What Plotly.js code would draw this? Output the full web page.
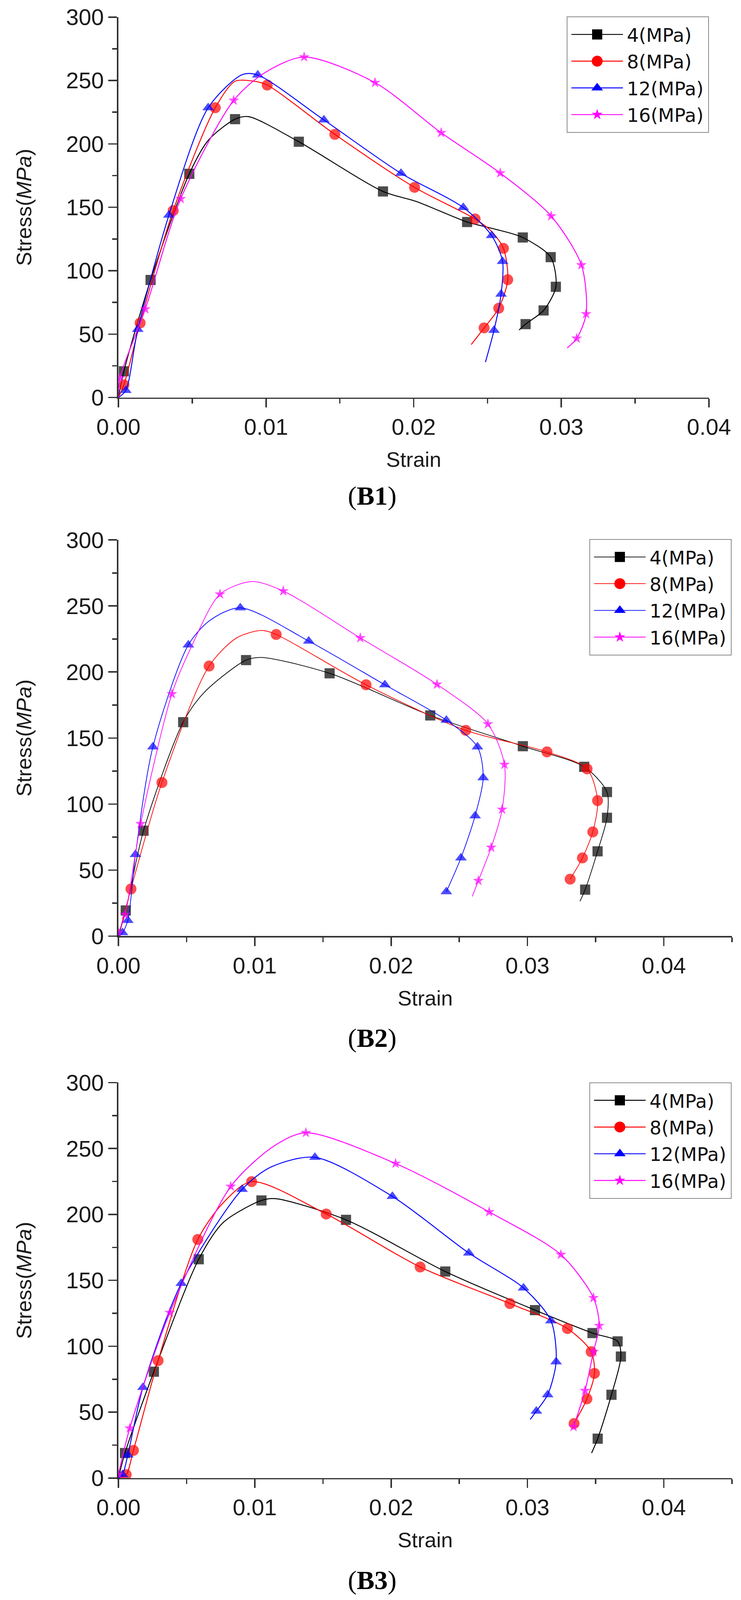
<!DOCTYPE html>
<html>
<head>
<meta charset="utf-8">
<script src="https://cdn.plot.ly/plotly-3.0.1.min.js"></script>
<style>
html, body { margin: 0; padding: 0; background: #fff; overflow: hidden; }
#chart { width: 948px; height: 2048px; zoom: 2; }
</style>
</head>
<body>
<div id="chart"></div>
<script>
var seriesNames = ["4(MPa)", "8(MPa)", "12(MPa)", "16(MPa)"];
var panelNames = ["B1", "B2", "B3"];

// readings: strain, stress, and whether a symbol sits on that reading (1)
// (B1)
var b1Strain4 = [0, 0.00037, 0.00218, 0.0048, 0.0061, 0.0079, 0.0088, 0.01222, 0.01792, 0.0202, 0.02362, 0.02544, 0.02739, 0.02928, 0.02963, 0.0288, 0.02758, 0.02714];
var b1Stress4 = [0, 20.7, 92.7, 176.4, 203, 219.5, 221.5, 201.7, 162.5, 154.5, 138.4, 133, 126.2, 110.7, 87.3, 68.7, 57.9, 53.2];
var b1Mark4   = [0, 1, 1, 1, 0, 1, 0, 1, 1, 0, 1, 0, 1, 1, 1, 1, 1, 0];

var b1Strain8 = [0, 0.00037, 0.00147, 0.00371, 0.00656, 0.0079, 0.0092, 0.01008, 0.01466, 0.02006, 0.02416, 0.02528, 0.02608, 0.02637, 0.02576, 0.02477, 0.0239];
var b1Stress8 = [0, 10, 58.8, 147.4, 228.5, 249.4, 249.4, 246.4, 207.5, 165.7, 140.8, 130.9, 117.6, 92.9, 70.4, 54.9, 41.8];
var b1Mark8   = [0, 1, 1, 1, 1, 0, 0, 1, 1, 1, 1, 0, 1, 1, 1, 1, 0];

var b1Strain12 = [0, 0.0005, 0.00131, 0.00342, 0.00608, 0.0084, 0.00944, 0.01392, 0.01914, 0.02336, 0.02528, 0.02602, 0.02592, 0.02544, 0.02486];
var b1Stress12 = [0, 5.6, 53.7, 143.8, 228.5, 254.7, 254.3, 218.9, 176.8, 149.8, 127.7, 107.3, 81.5, 53, 27.9];
var b1Mark12   = [0, 1, 1, 1, 1, 0, 1, 1, 1, 1, 1, 1, 1, 1, 0];

var b1Strain16 = [0, 0.0001, 0.00182, 0.00422, 0.00781, 0.0099, 0.01258, 0.01738, 0.02186, 0.02586, 0.02931, 0.03136, 0.03168, 0.03104, 0.0304];
var b1Stress16 = [0, 15.4, 69.7, 156.7, 234.3, 256, 268.5, 248.3, 208.8, 177, 143.1, 104.5, 65.9, 46.6, 39.1];
var b1Mark16   = [0, 1, 1, 1, 1, 0, 1, 1, 1, 1, 1, 1, 1, 1, 0];

// (B2)
var b2Strain4 = [0, 0.00054, 0.00184, 0.00475, 0.0063, 0.00936, 0.0105, 0.01549, 0.02287, 0.02966, 0.03416, 0.03583, 0.03583, 0.03514, 0.03423, 0.03385];
var b2Stress4 = [0, 19.4, 79.8, 162, 184.6, 209, 211, 199, 167.1, 143.8, 128.2, 109.1, 89.6, 64.2, 35.2, 26.4];
var b2Mark4   = [0, 1, 1, 1, 0, 1, 0, 1, 1, 1, 1, 1, 1, 1, 1, 0];

var b2Strain8 = [0, 0.00092, 0.00319, 0.00665, 0.0087, 0.0105, 0.01157, 0.01816, 0.02547, 0.03143, 0.03437, 0.03514, 0.03479, 0.03403, 0.03313];
var b2Stress8 = [0, 35.7, 116.3, 204.5, 226, 231.5, 228.4, 190.3, 155.8, 139.5, 126.6, 102.6, 78.9, 59.2, 43.1];
var b2Mark8   = [0, 1, 1, 1, 0, 0, 1, 1, 1, 1, 1, 1, 1, 1, 1];

var b2Strain12 = [0, 0.0003, 0.00069, 0.00125, 0.00253, 0.00513, 0.0067, 0.00894, 0.01396, 0.01954, 0.02405, 0.02633, 0.02675, 0.02616, 0.02512, 0.02405];
var b2Stress12 = [0, 2.6, 11.9, 61.8, 143.3, 220.5, 239, 248.6, 223.4, 190.3, 163.5, 143.3, 119.9, 91.1, 59.2, 33.6];
var b2Mark12   = [0, 1, 1, 1, 1, 1, 0, 1, 1, 1, 1, 1, 1, 1, 1, 1];

var b2Strain16 = [0, 0.00049, 0.00163, 0.00392, 0.0053, 0.00745, 0.0098, 0.01209, 0.01774, 0.02336, 0.0271, 0.02831, 0.02814, 0.02734, 0.0264, 0.02595];
var b2Stress16 = [2.6, 16.3, 85.1, 183.4, 218, 258.9, 268.5, 261.3, 225.8, 190.6, 160.6, 129.9, 95.9, 67.1, 42, 30];
var b2Mark16   = [1, 1, 1, 1, 0, 1, 0, 1, 1, 1, 1, 1, 1, 1, 1, 0];

// (B3)
var b3Strain4 = [0, 0.00048, 0.0026, 0.00589, 0.0077, 0.01049, 0.0115, 0.01669, 0.02397, 0.03055, 0.03477, 0.03661, 0.03685, 0.03616, 0.03515, 0.0347];
var b3Stress4 = [0, 19, 80.7, 166, 194, 210.6, 212, 195.9, 156.7, 127.4, 110, 103.7, 92.2, 63.2, 29.9, 19];
var b3Mark4   = [0, 1, 1, 1, 0, 1, 0, 1, 1, 1, 1, 1, 1, 1, 1, 0];

var b3Strain8 = [0, 0.00057, 0.0011, 0.00291, 0.00582, 0.0077, 0.00977, 0.01524, 0.02213, 0.02871, 0.03293, 0.03467, 0.03491, 0.03436, 0.03342];
var b3Stress8 = [0, 2.6, 21, 89.1, 181, 209, 224.9, 200.3, 160.1, 132.4, 113.4, 95.9, 79.4, 60.1, 41.4];
var b3Mark8   = [0, 1, 1, 1, 1, 0, 1, 1, 1, 1, 1, 1, 1, 1, 1];

var b3Strain12 = [0, 0.0003, 0.00069, 0.0018, 0.00461, 0.00907, 0.0112, 0.01441, 0.02009, 0.0257, 0.02971, 0.03172, 0.0321, 0.03148, 0.03065, 0.0302];
var b3Stress12 = [0, 2.6, 17.6, 68.8, 147.7, 219, 236, 243.3, 213.7, 170.7, 144.2, 119.3, 88.2, 63.2, 50.8, 44.5];
var b3Mark12   = [0, 1, 1, 1, 1, 1, 0, 1, 1, 1, 1, 1, 1, 1, 1, 0];

var b3Strain16 = [0, 0.00083, 0.00377, 0.00824, 0.0115, 0.01375, 0.02033, 0.02719, 0.03245, 0.03484, 0.03526, 0.03484, 0.03422, 0.03338];
var b3Stress16 = [2.6, 37.8, 125.5, 221.2, 252.5, 262, 238.6, 201.9, 169.5, 136.7, 115.6, 95.9, 66.3, 38.9];
var b3Mark16   = [1, 1, 1, 1, 0, 1, 1, 1, 1, 1, 1, 1, 1, 1];

var panels = [
    {strain: [b1Strain4, b1Strain8, b1Strain12, b1Strain16], stress: [b1Stress4, b1Stress8, b1Stress12, b1Stress16], mark: [b1Mark4, b1Mark8, b1Mark12, b1Mark16], xmax: 0.04},
    {strain: [b2Strain4, b2Strain8, b2Strain12, b2Strain16], stress: [b2Stress4, b2Stress8, b2Stress12, b2Stress16], mark: [b2Mark4, b2Mark8, b2Mark12, b2Mark16], xmax: 0.045},
    {strain: [b3Strain4, b3Strain8, b3Strain12, b3Strain16], stress: [b3Stress4, b3Stress8, b3Stress12, b3Stress16], mark: [b3Mark4, b3Mark8, b3Mark12, b3Mark16], xmax: 0.045}
];

// look
var colors = ["#000000", "#ff0000", "#0000ff", "#ff00ff"];
var symbols = ["square", "circle", "triangle-up", "star"];
var symSize = [13, 14, 13, 10.5];
var lineW = [1.2, 0.9, 1.2];

// the browser only shows 4096px of height, so the 1896x4685 sheet is laid out
// with its vertical positions scaled into that height (half size, zoomed x2)
var PW = 1896, PH = 4685;

// plot boxes in reference-sheet pixels: left, right, top, bottom
var boxes = [
    {l: 303, r: 1814, t: 50, b: 1164, cap: 1453, leg: {x: 1814, y: 48}},
    {l: 303, r: 1873, t: 1581, b: 2741, cap: 3040, leg: {x: 1872, y: 1578}},
    {l: 303, r: 1873, t: 3170, b: 4328, cap: 4628, leg: {x: 1872, y: 3169}}
];

var axisColor = "#333";
var FONT = "Liberation Sans, Arial, sans-serif";

var data = [];
var layout = {
    width: 948, height: 2048,
    margin: {l: 0, r: 0, t: 0, b: 0},
    paper_bgcolor: "#fff", plot_bgcolor: "#fff",
    font: {family: FONT, color: "#1a1a1a"},
    annotations: []
};

panels.forEach(function (p, i) {
    var n = i === 0 ? "" : String(i + 1);
    var bx = boxes[i];
    var legId = "legend" + n;

    layout["xaxis" + n] = {
        domain: [bx.l / PW, bx.r / PW],
        anchor: "y" + n,
        range: [0, p.xmax],
        tick0: 0, dtick: 0.01, tickformat: ".2f",
        ticks: "outside", ticklen: 11, tickwidth: 1.8, tickcolor: axisColor,
        minor: {dtick: 0.005, ticks: "outside", ticklen: 6, tickwidth: 1.8, tickcolor: axisColor, showgrid: false},
        showline: true, linecolor: axisColor, linewidth: 1.8,
        showgrid: false, zeroline: false,
        tickfont: {size: 29, family: FONT},
        title: {text: "Strain", font: {size: 27, family: FONT}, standoff: 17}
    };
    layout["yaxis" + n] = {
        domain: [1 - bx.b / PH, 1 - bx.t / PH],
        anchor: "x" + n,
        range: [0, 300],
        tick0: 0, dtick: 50,
        ticks: "outside", ticklen: 11, tickwidth: 1.8, tickcolor: axisColor,
        minor: {dtick: 25, ticks: "outside", ticklen: 6, tickwidth: 1.8, tickcolor: axisColor, showgrid: false},
        showline: true, linecolor: axisColor, linewidth: 1.8,
        showgrid: false, zeroline: false,
        tickfont: {size: 29, family: FONT},
        title: {text: "Stress(<i>MPa</i>)", font: {size: 27, family: FONT}, standoff: 36}
    };
    layout[legId] = {
        x: bx.leg.x / PW, xanchor: "right",
        y: 1 - bx.leg.y / PH, yanchor: "top",
        bgcolor: "rgba(255,255,255,0)",
        bordercolor: "#8a8a8a", borderwidth: 1,
        font: {size: 24, family: "DejaVu Sans, Verdana, sans-serif", color: "#111"},
        itemwidth: 66, tracegroupgap: 0
    };
    layout.annotations.push({
        xref: "paper", yref: "paper",
        x: 952 / PW, y: 1 - bx.cap / PH,
        xanchor: "center", yanchor: "middle",
        showarrow: false,
        text: "(<b>" + panelNames[i] + "</b>)",
        font: {family: "Liberation Serif, Times New Roman, serif", size: 34, color: "#000"}
    });

    for (var s = 0; s < 4; s++) {
        var sz = symSize[s];
        data.push({
            x: p.strain[s], y: p.stress[s],
            xaxis: "x" + n, yaxis: "y" + n,
            type: "scatter", mode: "lines+markers",
            line: {color: colors[s], width: lineW[i], shape: "spline", smoothing: 0.8},
            marker: {symbol: symbols[s], color: colors[s], size: p.mark[s].map(function (m) { return m ? sz : 0; }), line: {width: 0}},
            showlegend: false, hoverinfo: "x+y"
        });
        // legend sample for this series
        data.push({
            x: [null], y: [null],
            xaxis: "x" + n, yaxis: "y" + n,
            type: "scatter", mode: "lines+markers",
            name: seriesNames[s],
            line: {color: colors[s], width: lineW[i]},
            marker: {symbol: symbols[s], color: colors[s], size: sz, line: {width: 0}},
            legend: legId, showlegend: true
        });
    }
});

Plotly.newPlot("chart", data, layout, {staticPlot: true, displayModeBar: false});
</script>
</body>
</html>
